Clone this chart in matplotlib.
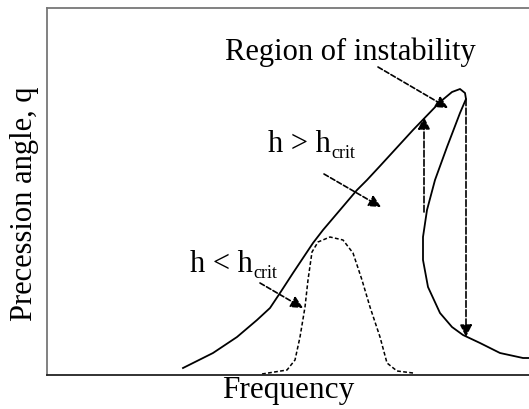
import matplotlib
matplotlib.use('Agg')
import matplotlib.pyplot as plt

plt.rcParams['font.family'] = ['Liberation Serif', 'DejaVu Serif']

# response curve for h > h_crit (goes up, folds back and drops)
solid_x = [136, 166, 190, 210, 223, 233, 246, 266, 276, 293, 310, 320, 333, 366, 393,
           405, 413, 418, 419, 413, 400, 388, 380, 376, 376, 381, 393, 405, 416, 433,
           453, 476, 482]
solid_y = [7, 22, 38, 55, 67, 82, 102, 132, 145, 165, 185, 195, 209, 245, 273,
           283, 286, 282, 276, 262, 228, 195, 165, 138, 115, 88, 62, 48, 40, 32,
           22, 17, 17]

# response curve for h < h_crit
dotted_x = [215, 240, 248, 253, 258, 261, 265, 271, 283, 296, 306, 315, 323, 333, 340, 350, 366]
dotted_y = [1, 5, 15, 38, 68, 95, 123, 133, 138, 135, 122, 95, 68, 38, 12, 4, 2]

# annotation text (left, baseline), subscripts and arrows (tail -> head)
labels = ['Region of instability', 'h > h', 'h < h']
subscripts = ['', 'crit', 'crit']
label_pos = [(178, 315), (221, 223), (143, 103)]
arrow_tail = [(331, 308), (277, 201), (213, 92)]
arrow_head = [(401, 267), (334, 168), (256, 67)]

# jump arrows (vertical)
jump_x = [377, 419]
jump_from = [163, 276]
jump_to = [258, 38]

fig = plt.figure(figsize=(5.29, 4.09), dpi=100)
ax = fig.add_axes([47 / 529, 34 / 409, 1 - 47 / 529, 367 / 409])

ax.plot(solid_x, solid_y, color='black', lw=1.3, solid_joinstyle='round')
ax.plot(dotted_x, dotted_y, color='black', lw=1.1, ls=(0, (2.5, 1.5)))

for lab, sub, pos, tail, head in zip(labels, subscripts, label_pos, arrow_tail, arrow_head):
    t = ax.text(pos[0], pos[1], lab, fontsize=22, ha='left', va='baseline')
    if sub:
        ax.annotate(sub, xy=(1, 0), xycoords=t, xytext=(0.5, 0.5),
                    textcoords='offset points', fontsize=13, va='baseline')
    ax.annotate('', xy=head, xytext=tail,
                arrowprops=dict(arrowstyle='-|>', color='black', lw=1.2,
                                ls=(0, (3, 1.5)), mutation_scale=18,
                                shrinkA=0, shrinkB=0))

for x, y0, y1 in zip(jump_x, jump_from, jump_to):
    ax.annotate('', xy=(x, y1), xytext=(x, y0),
                arrowprops=dict(arrowstyle='-|>', color='black', lw=1.2,
                                ls=(0, (4, 1.5)), mutation_scale=18,
                                shrinkA=0, shrinkB=0))

ax.set_xlim(0, 482)
ax.set_ylim(0, 367)
ax.set_xticks([])
ax.set_yticks([])
ax.spines['right'].set_visible(False)
ax.spines['left'].set_color('#777777')
ax.spines['top'].set_color('#777777')
ax.spines['bottom'].set_color('#222222')
for s in ax.spines.values():
    s.set_linewidth(1.3)

ax.set_xlabel('Frequency', fontsize=22.5, labelpad=1)
ax.set_ylabel('Precession angle, q', fontsize=22)
ax.yaxis.set_label_coords(-0.016, 0.466)

fig.savefig('out.png', dpi=100)
